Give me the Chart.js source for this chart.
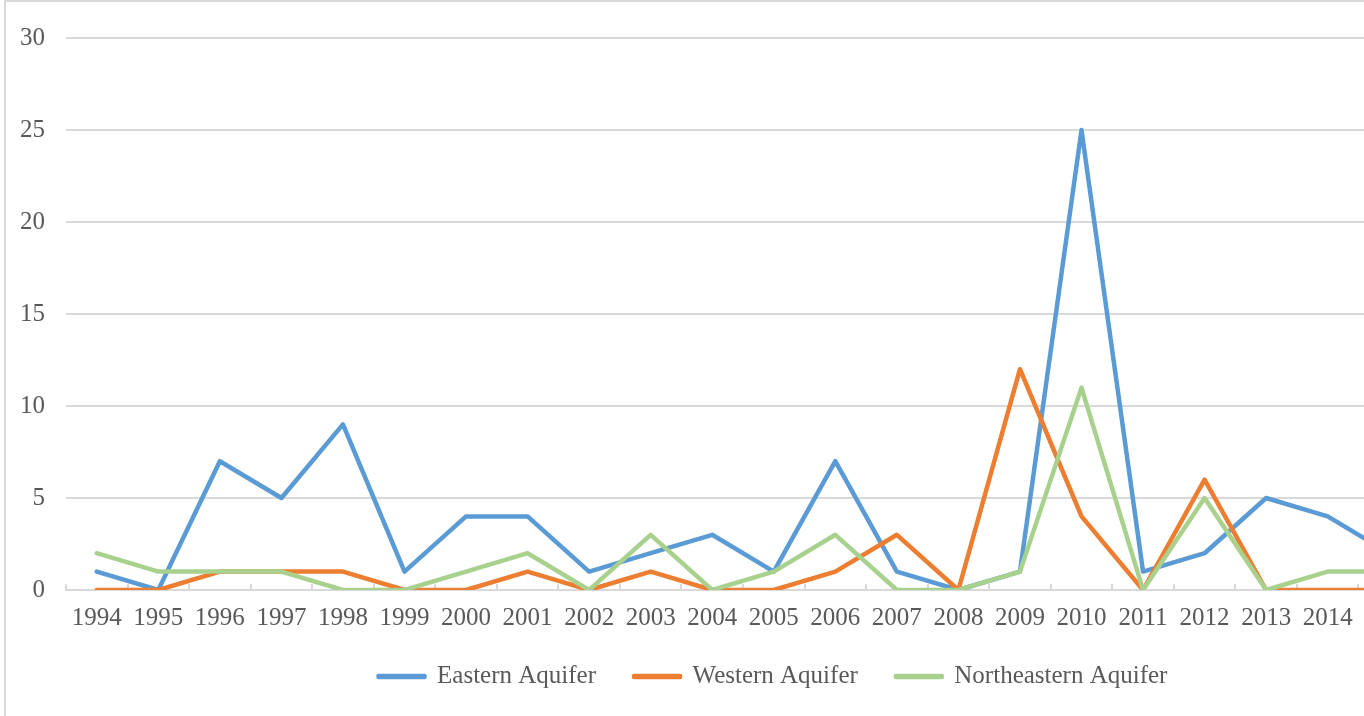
<!DOCTYPE html>
<html>
<head>
<meta charset="utf-8">
<script src="https://cdn.jsdelivr.net/npm/chart.js@4"></script>
<style>
    html, body { margin: 0; padding: 0; background: #fff; overflow: hidden; }
    #frame {
        position: absolute; left: 4px; top: 0;
        border-left: 2px solid #d9d9d9; border-top: 2px solid #d9d9d9;
        width: 1440px; height: 720px;
    }
    canvas { display: block; }
</style>
</head>
<body>
<div id="frame"><canvas id="aquiferChart" width="1440" height="720"></canvas></div>
<script>
// Yearly counts per aquifer
const years = ['1994', '1995', '1996', '1997', '1998', '1999', '2000', '2001', '2002', '2003', '2004',
               '2005', '2006', '2007', '2008', '2009', '2010', '2011', '2012', '2013', '2014', '2015'];
const eastern      = [1, 0, 7, 5, 9, 1, 4, 4, 1, 2, 3, 1, 7, 1, 0, 1, 25, 1, 2, 5, 4, 2];
const western      = [0, 0, 1, 1, 1, 0, 0, 1, 0, 1, 0, 0, 1, 3, 0, 12, 4, 0, 6, 0, 0, 0];
const northeastern = [2, 1, 1, 1, 0, 0, 1, 2, 0, 3, 0, 1, 3, 0, 0, 1, 11, 0, 5, 0, 1, 1];

const textGrey = '#595959';
const gridGrey = '#d9d9d9';

Chart.defaults.font.family = "'Liberation Serif', 'Times New Roman', serif";
Chart.defaults.font.size = 25;
Chart.defaults.color = textGrey;

// legend sits a little right of the plot centre, as in the source
const legendShift = {
    id: 'legendShift',
    afterLayout(chart) {
        chart.legend.left += 60;
        chart.legend.right += 60;
    }
};

function series(label, data, color, order) {
    return {
        label, data, order,
        borderColor: color,
        backgroundColor: color,
        borderWidth: 4.5,
        borderJoinStyle: 'round',
        borderCapStyle: 'round',
        pointRadius: 0,
        tension: 0
    };
}

new Chart(document.getElementById('aquiferChart'), {
    type: 'line',
    data: {
        labels: years,
        datasets: [
            series('Eastern Aquifer', eastern, '#5b9bd5', 3),
            series('Western Aquifer', western, '#ed7d31', 2),
            series('Northeastern Aquifer', northeastern, '#a9d18e', 1)
        ]
    },
    options: {
        responsive: false,
        animation: false,
        layout: { padding: { left: 0, top: 32, right: 26, bottom: 23 } },
        plugins: {
            tooltip: { enabled: false },
            legend: {
                position: 'bottom',
                reverse: true,
                labels: { boxWidth: 46, boxHeight: 1, padding: 38, color: textGrey }
            }
        },
        scales: {
            x: {
                offset: true,
                grid: { offset: true, drawOnChartArea: false, drawTicks: true, tickLength: -6, tickColor: gridGrey, lineWidth: 2 },
                border: { display: true, color: gridGrey, width: 2 },
                ticks: { padding: 19, maxRotation: 0, autoSkip: false, color: textGrey },
                afterFit(scale) { scale.height = 36; }
            },
            y: {
                min: 0,
                max: 30,
                grid: { color: gridGrey, lineWidth: 2, drawTicks: false },
                border: { display: false },
                ticks: { stepSize: 5, padding: 21, color: textGrey },
                afterFit(scale) { scale.width = 60; }
            }
        }
    },
    plugins: [legendShift]
});
</script>
</body>
</html>
